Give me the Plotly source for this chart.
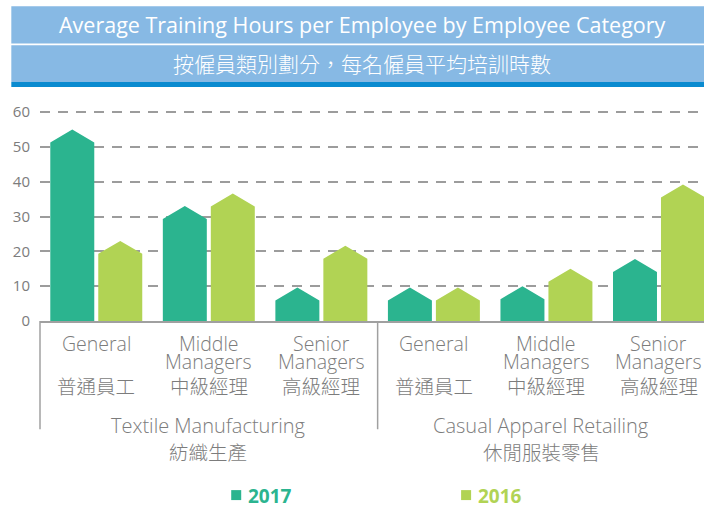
import plotly.graph_objects as go

# ---------------- data ----------------
groups_en = ["Textile Manufacturing", "Casual Apparel Retailing"]
groups_zh = ["紡織生產", "休閒服裝零售"]
cat_en = [["General", ""], ["Middle", "Managers"], ["Senior", "Managers"],
          ["General", ""], ["Middle", "Managers"], ["Senior", "Managers"]]
cat_zh = ["普通員工", "中級經理", "高級經理", "普通員工", "中級經理", "高級經理"]
series_names = ["2017", "2016"]
values_2017 = [55, 33, 9.6, 9.6, 10, 17.8]
values_2016 = [23, 36.6, 21.6, 9.6, 15, 39.2]
y_ticks = [0, 10, 20, 30, 40, 50, 60]

# ---------------- style / geometry ----------------
W, H = 704, 508
C17 = "#2BB48F"
C16 = "#B1D354"
BAND = "#87B9E4"
STRIPE = "#0A8BD0"
GREY = "#7c7c7c"
LINE = "#a0a0a0"
FONT = "Open Sans, Noto Sans CJK TC, sans-serif"
ZH = "Noto Sans CJK TC, Open Sans, sans-serif"

left_px, right_px = 39.7, 704
top_px, bottom_px = 108, 321.5
px_per_unit_y = (bottom_px - 112) / 60.0
x_range = [-0.5, 5.4]
px_per_unit_x = (right_px - left_px) / (x_range[1] - x_range[0])
y_top = (bottom_px - top_px) / px_per_unit_y

half_w = 22 / px_per_unit_x
offset = 24 / px_per_unit_x
tip = 13 / px_per_unit_y


def px_x(px):
    return (px - left_px) / (right_px - left_px)


def px_y(py):
    return (bottom_px - py) / (bottom_px - top_px)


def bar_poly(vals, off):
    xs, ys = [], []
    for i, v in enumerate(vals):
        xc = i + off
        x0, x1 = xc - half_w, xc + half_w
        s = max(v - tip, 0)
        xs += [x0, x0, xc, x1, x1, x0, None]
        ys += [0, s, v, s, 0, 0, None]
    return xs, ys


fig = go.Figure()
for vals, off, col, nm in [(values_2017, -offset, C17, series_names[0]),
                           (values_2016, offset, C16, series_names[1])]:
    xs, ys = bar_poly(vals, off)
    fig.add_trace(go.Scatter(x=xs, y=ys, mode="lines", fill="toself",
                             fillcolor=col, line=dict(width=0, color=col),
                             name=nm, hoverinfo="skip", showlegend=False))

shapes = []
# title bands
shapes.append(dict(type="rect", xref="paper", yref="paper", x0=px_x(11), x1=px_x(704),
                   y0=px_y(43.3), y1=px_y(6), fillcolor=BAND, line=dict(width=0), layer="above"))
shapes.append(dict(type="rect", xref="paper", yref="paper", x0=px_x(11), x1=px_x(704),
                   y0=px_y(82), y1=px_y(45), fillcolor=BAND, line=dict(width=0), layer="above"))
shapes.append(dict(type="rect", xref="paper", yref="paper", x0=px_x(11), x1=px_x(704),
                   y0=px_y(87), y1=px_y(82), fillcolor=STRIPE, line=dict(width=0), layer="above"))
# group separators
for xv in [x_range[0], 2.5]:
    xp = (xv - x_range[0]) / (x_range[1] - x_range[0])
    shapes.append(dict(type="line", xref="paper", yref="paper", x0=xp, x1=xp,
                       y0=0, y1=px_y(430), line=dict(color=LINE, width=1.5)))
# legend squares
for x0, col in [(231, C17), (461, C16)]:
    shapes.append(dict(type="rect", xref="paper", yref="paper", x0=px_x(x0), x1=px_x(x0 + 10),
                       y0=px_y(501), y1=px_y(491), fillcolor=col, line=dict(width=0)))

ann = []
ann.append(dict(text="Average Training Hours per Employee by Employee Category",
                xref="paper", yref="paper", x=px_x(362), y=px_y(24.5), showarrow=False,
                font=dict(family=FONT, size=21.5, color="white"), xanchor="center", yanchor="middle"))
ann.append(dict(text="按僱員類別劃分，每名僱員平均培訓時數",
                xref="paper", yref="paper", x=px_x(362), y=px_y(63), showarrow=False,
                font=dict(family=ZH, size=21, color="white", weight=300),
                xanchor="center", yanchor="middle"))
for i in range(6):
    l1, l2 = cat_en[i]
    ann.append(dict(text=l1, xref="x", yref="paper", x=i, y=px_y(344), showarrow=False,
                    font=dict(family=FONT, size=19.5, color=GREY, weight=300),
                    xanchor="center", yanchor="middle"))
    if l2:
        ann.append(dict(text=l2, xref="x", yref="paper", x=i, y=px_y(362.5), showarrow=False,
                        font=dict(family=FONT, size=19.5, color=GREY, weight=300),
                        xanchor="center", yanchor="middle"))
    ann.append(dict(text=cat_zh[i], xref="x", yref="paper", x=i, y=px_y(386), showarrow=False,
                    font=dict(family=ZH, size=19.5, color=GREY, weight=300),
                    xanchor="center", yanchor="middle"))
for g, cx in enumerate([px_x(208), px_x(541)]):
    ann.append(dict(text=groups_en[g], xref="paper", yref="paper", x=cx, y=px_y(426), showarrow=False,
                    font=dict(family=FONT, size=20, color=GREY, weight=300),
                    xanchor="center", yanchor="middle"))
    ann.append(dict(text=groups_zh[g], xref="paper", yref="paper", x=cx, y=px_y(452), showarrow=False,
                    font=dict(family=ZH, size=19.5, color=GREY, weight=300),
                    xanchor="center", yanchor="middle"))
for x0, col, nm in [(246, C17, series_names[0]), (476, C16, series_names[1])]:
    ann.append(dict(text="<b>%s</b>" % nm, xref="paper", yref="paper", x=px_x(x0), y=px_y(496.5),
                    showarrow=False, xanchor="left", yanchor="middle",
                    font=dict(family=FONT, size=19, color=col)))

fig.update_layout(
    width=W, height=H,
    margin=dict(l=left_px, r=W - right_px, t=top_px, b=H - bottom_px, pad=0),
    paper_bgcolor="white", plot_bgcolor="white",
    showlegend=False,
    shapes=shapes, annotations=ann,
    xaxis=dict(range=x_range, showgrid=False, zeroline=False, showticklabels=False,
               showline=True, linecolor=LINE, linewidth=1.5, fixedrange=True),
    yaxis=dict(range=[0, y_top], tickvals=y_ticks, showgrid=True, gridcolor="#9c9c9c",
               gridwidth=1.5, griddash="10px,8px", zeroline=False, showline=False,
               tickfont=dict(family=FONT, size=15, color=GREY), ticklabelstandoff=9,
               fixedrange=True),
)

fig.write_html("out.html", config={"displayModeBar": False},
               post_script="document.body.style.margin='0';document.body.style.overflow='hidden';")
